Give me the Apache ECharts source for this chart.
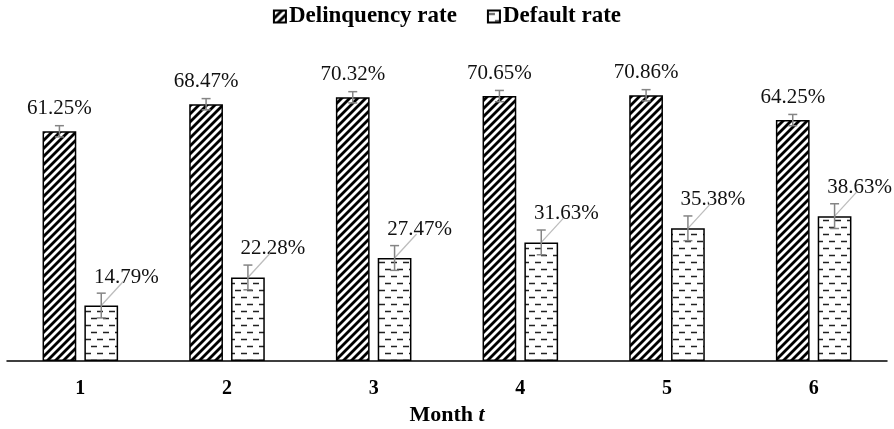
<!DOCTYPE html>
<html>
<head>
<meta charset="utf-8">
<script src="https://cdn.jsdelivr.net/npm/echarts@6/dist/echarts.min.js"></script>
<style>html,body{margin:0;padding:0;background:#fff}#c{width:894px;height:429px}</style>
</head>
<body>
<div id="c"></div>
<script>
const categories = ['1', '2', '3', '4', '5', '6'];
const delinquencyRate = [61.25, 68.47, 70.32, 70.65, 70.86, 64.25];
const defaultRate = [14.79, 22.28, 27.47, 31.63, 35.38, 38.63];
const delinquencyErr = [1.5, 1.5, 1.5, 1.5, 1.5, 1.5];
const defaultErr = [3.3, 3.3, 3.3, 3.3, 3.3, 3.3];

const FONT = '"Liberation Serif", "Times New Roman", serif';

function stripePattern() {
  const c = document.createElement('canvas');
  c.width = 8; c.height = 8;
  const g = c.getContext('2d');
  g.fillStyle = '#fff'; g.fillRect(0, 0, 8, 8);
  g.strokeStyle = '#000'; g.lineWidth = 2.8;
  for (const o of [-8, 0, 8]) {
    g.beginPath(); g.moveTo(o - 1, 9); g.lineTo(o + 9, -1); g.stroke();
  }
  return c;
}
function dashPattern() {
  const c = document.createElement('canvas');
  c.width = 12; c.height = 14;
  const g = c.getContext('2d');
  g.fillStyle = '#fff'; g.fillRect(0, 0, 12, 14);
  g.strokeStyle = '#222'; g.lineWidth = 1.6;
  g.beginPath();
  g.moveTo(1, 3.5); g.lineTo(7, 3.5);
  g.moveTo(7, 10.5); g.lineTo(12, 10.5);
  g.moveTo(0, 10.5); g.lineTo(1, 10.5);
  g.stroke();
  return c;
}

const BAR_W = 0.23, BAR_GAP = 0.24;

function errSeries(values, errs, side, leader) {
  return {
    type: 'custom',
    z: 5,
    silent: true,
    data: values.map((v, i) => [i, v, errs[i]]),
    renderItem: function (params, api) {
      const i = api.value(0), v = api.value(1), e = api.value(2);
      const band = api.size([1, 0])[0];
      const bw = band * BAR_W;
      const off = (bw + bw * BAR_GAP) / 2 * side;
      const hi = api.coord([i, v + e]);
      const lo = api.coord([i, v - e]);
      const top = api.coord([i, v]);
      const x = hi[0] + off;
      const cw = 4.5;
      const st = { stroke: '#858585', lineWidth: 1.5 };
      const children = [];
      if (leader) {
        children.push({ type: 'line', z2: 0, shape: { x1: x, y1: top[1], x2: x + 22, y2: top[1] - 24 },
          style: { stroke: '#bdbdbd', lineWidth: 1.3 } });
      }
      children.push(
        { type: 'line', z2: 1, shape: { x1: x, y1: hi[1], x2: x, y2: lo[1] }, style: st },
        { type: 'line', z2: 1, shape: { x1: x - cw, y1: hi[1], x2: x + cw, y2: hi[1] }, style: st },
        { type: 'line', z2: 1, shape: { x1: x - cw, y1: lo[1], x2: x + cw, y2: lo[1] }, style: st }
      );
      return { type: 'group', children };
    }
  };
}

const chart = echarts.init(document.getElementById('c'), null, { renderer: 'canvas' });
chart.setOption({
  animation: false,
  textStyle: { fontFamily: FONT },
  legend: {
    data: ['Delinquency rate', 'Default rate'],
    top: 0,
    left: 'center',
    itemWidth: 12,
    itemHeight: 12,
    itemGap: 30,
    icon: 'rect',
    textStyle: { fontFamily: FONT, fontSize: 23, fontWeight: 'bold', color: '#000', padding: [0, 0, 0, -2] }
  },
  grid: { left: 7, right: 7, top: 61, bottom: 68, containLabel: false, outerBoundsMode: 'none' },
  xAxis: {
    type: 'category',
    data: categories,
    axisLine: { lineStyle: { color: '#000', width: 1.5 } },
    axisTick: { show: false },
    axisLabel: { fontFamily: FONT, fontSize: 20, fontWeight: 'bold', color: '#000', margin: 18 },
    name: '{a|Month }{b|t}',
    nameLocation: 'middle',
    nameGap: 38,
    nameTextStyle: {
      rich: {
        a: { fontFamily: FONT, fontSize: 22, fontWeight: 'bold', color: '#000' },
        b: { fontFamily: FONT, fontSize: 22, fontWeight: 'bold', fontStyle: 'italic', color: '#000' }
      }
    }
  },
  yAxis: { type: 'value', min: 0, max: 80, show: false, splitLine: { show: false } },
  series: [
    {
      name: 'Delinquency rate',
      type: 'bar',
      data: delinquencyRate,
      barWidth: (BAR_W * 100) + '%',
      barGap: (BAR_GAP * 100) + '%',
      itemStyle: { color: { image: stripePattern(), repeat: 'repeat' }, borderColor: '#000', borderWidth: 1.5 },
      label: {
        show: true, position: 'top', distance: 12,
        formatter: p => p.value.toFixed(2) + '%',
        fontFamily: FONT, fontSize: 21, color: '#111'
      }
    },
    {
      name: 'Default rate',
      type: 'bar',
      data: defaultRate,
      barWidth: (BAR_W * 100) + '%',
      barGap: (BAR_GAP * 100) + '%',
      itemStyle: { color: { image: dashPattern(), repeat: 'repeat' }, borderColor: '#000', borderWidth: 1.5 },
      label: {
        show: true, position: 'top', distance: 5,
        formatter: p => p.value.toFixed(2) + '%',
        fontFamily: FONT, fontSize: 21, color: '#111'
      },
      labelLayout: { dx: 25, dy: -13 }
    },
    errSeries(delinquencyRate, delinquencyErr, -1, false),
    errSeries(defaultRate, defaultErr, 1, true)
  ]
});
</script>
</body>
</html>
